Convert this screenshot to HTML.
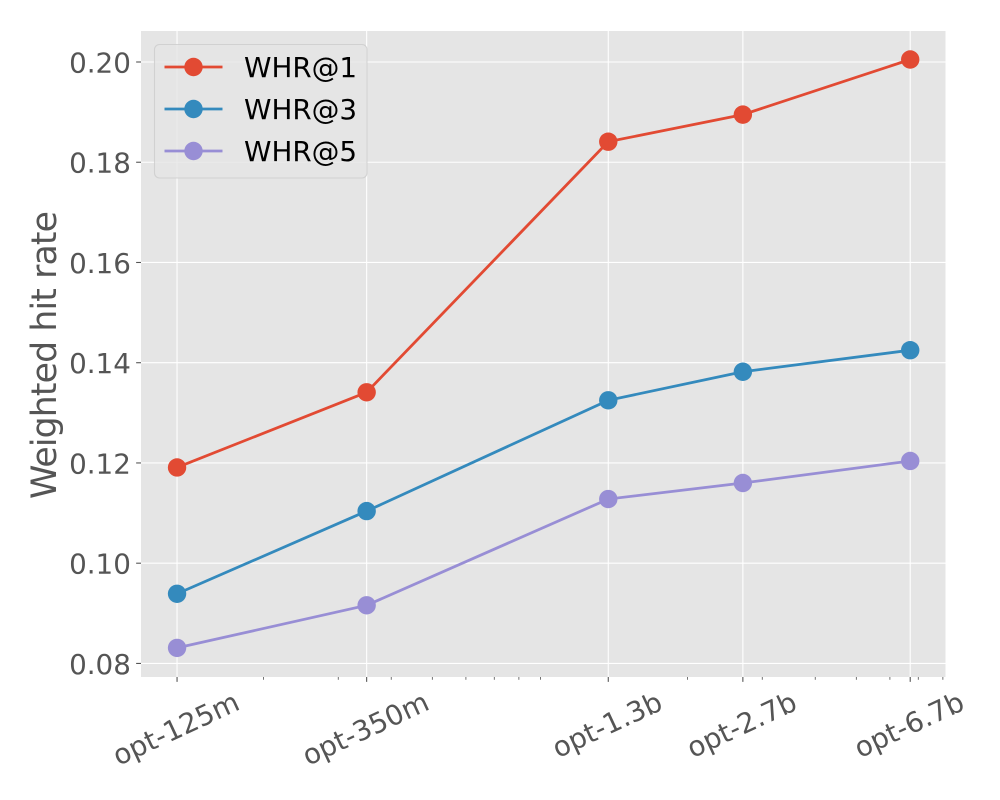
<!DOCTYPE html>
<html lang="en">
<head>
<meta charset="utf-8">
<title>Weighted hit rate chart</title>
<style>
html,body{margin:0;padding:0;background:#fff;}
svg{display:block;font-family:"DejaVu Sans","Liberation Sans",sans-serif;}
</style>
</head>
<body>
<svg id="chart" xmlns="http://www.w3.org/2000/svg" width="1000" height="800" viewBox="0 0 1000 800">
  <rect x="0" y="0" width="1000" height="800" fill="#ffffff"/>
  <rect x="141" y="31" width="804.5" height="646" fill="#E5E5E5"/>
  <g id="grid"></g>
  <g id="ticks"></g>
  <g id="series"></g>
  <text transform="translate(56 355) rotate(-90)" text-anchor="middle" font-size="34.72" fill="#555555" textLength="288" lengthAdjust="spacing">Weighted hit rate</text>
  <g id="legend">
    <rect x="154.5" y="44.5" width="212.5" height="133.5" rx="5" ry="5" fill="#E5E5E5" fill-opacity="0.8" stroke="#CCCCCC" stroke-opacity="0.8" stroke-width="1.1"/>
    <g>
      <line x1="164.5" y1="67" x2="222.5" y2="67" stroke="#E24A33" stroke-width="2.78"/>
      <circle cx="193.5" cy="67" r="9.2" fill="#E24A33"/>
      <text x="244" y="77" font-size="27.78" fill="#000000">WHR@1</text>
    </g>
    <g>
      <line x1="164.5" y1="109" x2="222.5" y2="109" stroke="#348ABD" stroke-width="2.78"/>
      <circle cx="193.5" cy="109" r="9.2" fill="#348ABD"/>
      <text x="244" y="119" font-size="27.78" fill="#000000">WHR@3</text>
    </g>
    <g>
      <line x1="164.5" y1="151" x2="222.5" y2="151" stroke="#988ED5" stroke-width="2.78"/>
      <circle cx="193.5" cy="151" r="9.2" fill="#988ED5"/>
      <text x="244" y="161" font-size="27.78" fill="#000000">WHR@5</text>
    </g>
  </g>
</svg>
<script>
const modelSizes = [0.125, 0.35, 1.3, 2.7, 6.7];
const modelLabels = ["opt-125m", "opt-350m", "opt-1.3b", "opt-2.7b", "opt-6.7b"];
const minorSizes = [0.2, 0.3, 0.4, 0.5, 0.6, 0.7, 0.8, 0.9, 2, 3, 4, 5, 6, 7, 8];
const yTickValues = [0.08, 0.10, 0.12, 0.14, 0.16, 0.18, 0.20];
const yTickLabels = ["0.08", "0.10", "0.12", "0.14", "0.16", "0.18", "0.20"];
const whr1 = [0.1191, 0.1341, 0.1841, 0.1895, 0.2005];
const whr3 = [0.0939, 0.1104, 0.1325, 0.1382, 0.1425];
const whr5 = [0.0831, 0.0916, 0.1128, 0.1160, 0.1204];

const NS = "http://www.w3.org/2000/svg";
const AREA = {left: 141, right: 945.5, top: 31, bottom: 677};
function xScale(v) { return 263.6 + 424 * Math.log10(v / 0.2); }
function yScale(v) { return 62 + (0.20 - v) * 5012; }

function mk(parent, tag, props) {
  const el = document.createElementNS(NS, tag);
  for (const k in props) el.setAttribute(k, props[k]);
  parent.appendChild(el);
  return el;
}

const gridG = document.getElementById("grid");
const tickG = document.getElementById("ticks");
const seriesG = document.getElementById("series");
const TICK = "#555555";

yTickValues.forEach(function (v, i) {
  const y = yScale(v);
  const grid = mk(gridG, "line", {x1: AREA.left, x2: AREA.right, y1: y, y2: y, stroke: "#ffffff", "stroke-width": 1.1});
  
  
  const tick = mk(tickG, "line", {x1: AREA.left - 4.86, x2: AREA.left, y1: y, y2: y, stroke: TICK, "stroke-width": 1.1});
  
  
  const label = mk(tickG, "text", {x: AREA.left - 10.1, y: y + 10.4, "text-anchor": "end", "font-size": 27.78, fill: TICK});
  label.textContent = yTickLabels[i];
  
  
});

modelSizes.forEach(function (v, i) {
  const x = xScale(v);
  const grid = mk(gridG, "line", {x1: x, x2: x, y1: AREA.top, y2: AREA.bottom, stroke: "#ffffff", "stroke-width": 1.1});
  
  
  const tick = mk(tickG, "line", {x1: x, x2: x, y1: AREA.bottom, y2: AREA.bottom + 4.86, stroke: TICK, "stroke-width": 1.1});
  
  
  const label = mk(tickG, "text", {"text-anchor": "middle", "font-size": 27.78, fill: TICK});
  label.textContent = modelLabels[i];
  
  
  const angle = 25 * Math.PI / 180;
  const w = label.getComputedTextLength();
  const cy = 687 + (w * Math.sin(angle) + 32 * Math.cos(angle)) / 2;
  label.setAttribute("transform", "translate(" + (x - 0.5) + " " + cy + ") rotate(-25) translate(0 8)");
});

minorSizes.forEach(function (v) {
  const x = xScale(v);
  const tick = mk(tickG, "line", {x1: x, x2: x, y1: AREA.bottom, y2: AREA.bottom + 2.78, stroke: TICK, "stroke-width": 0.83});
  
  
});

function drawSeries(values, color, name) {
  const group = mk(seriesG, "g", {});
  
  
  const pts = values.map(function (v, i) { return xScale(modelSizes[i]) + "," + yScale(v); }).join(" ");
  const line = mk(group, "polyline", {points: pts, fill: "none", stroke: color, "stroke-width": 2.78});
  
  
  values.forEach(function (v, i) {
    const c = mk(group, "circle", {cx: xScale(modelSizes[i]), cy: yScale(v), r: 9.2, fill: color});
    
    
  });
}
drawSeries(whr1, "#E24A33", "series-whr1");
drawSeries(whr3, "#348ABD", "series-whr3");
drawSeries(whr5, "#988ED5", "series-whr5");
</script>
</body>
</html>
